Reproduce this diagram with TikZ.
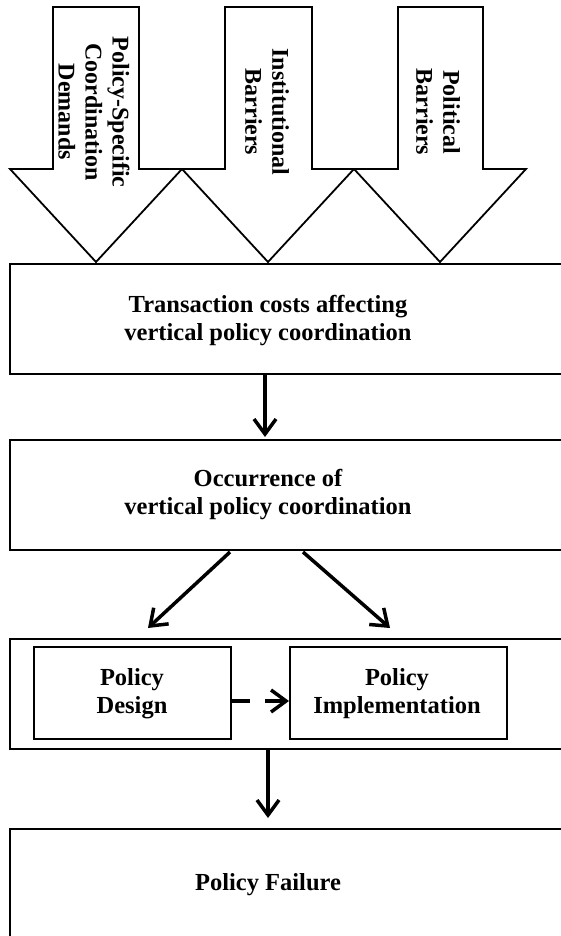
\documentclass[tikz,border=0pt]{standalone}
\usepackage{fontspec}
\setmainfont{Liberation Serif}
\usetikzlibrary{arrows.meta,calc}
\begin{document}
\begin{tikzpicture}[x=1pt,y=-1pt,
  bigarrow/.style={draw=black,line width=1.8pt,fill=white,line join=miter},
  boxshape/.style={draw=black,line width=2pt,fill=white,rectangle,inner sep=0pt},
  txt/.style={font=\bfseries\fontsize{24.5}{28}\selectfont,align=center,inner sep=0pt},
  vtxt/.style={font=\bfseries\fontsize{24}{27}\selectfont,align=center,inner sep=0pt,rotate=-90},
  conn/.style={line width=3.5pt,-{Straight Barb[length=15pt,width=22pt]}}
]
\useasboundingbox (0,0) rectangle (561,936);
\fill[white] (0,0) rectangle (561,936);
% big input arrows
\draw[bigarrow] (53,7) -- (139,7) -- (139,169) -- (182,169) -- (96,262) -- (10,169) -- (53,169) -- cycle;
\draw[bigarrow] (225,7) -- (312,7) -- (312,169) -- (354,169) -- (268,262) -- (182,169) -- (225,169) -- cycle;
\draw[bigarrow] (398,7) -- (483,7) -- (483,169) -- (526,169) -- (440,262) -- (354,169) -- (398,169) -- cycle;
\node[vtxt] (a1) at (94,112) {Policy-Specific\\Coordination\\Demands};
\node[vtxt] (a2) at (267,112) {Institutional\\Barriers};
\node[vtxt] (a3) at (438,112) {Political\\Barriers};
% boxes
\node[boxshape,anchor=north west,minimum width=580pt,minimum height=110pt] (b1) at (9,263) {};
\node[txt] (t1) at (268,321) {Transaction costs affecting\\vertical policy coordination};
\node[boxshape,anchor=north west,minimum width=580pt,minimum height=110pt] (b2) at (9,439) {};
\node[txt] (t2) at (268,495) {Occurrence of\\vertical policy coordination};
\node[boxshape,anchor=north west,minimum width=580pt,minimum height=110pt] (b3) at (9,638) {};
\node[boxshape,anchor=north west,minimum width=197pt,minimum height=92pt] (d) at (33,646) {};
\node[txt] (td) at (132,694) {Policy\\Design};
\node[boxshape,anchor=north west,minimum width=217pt,minimum height=92pt] (im) at (289,646) {};
\node[txt] (ti) at (397,694) {Policy\\Implementation};
\node[boxshape,anchor=north west,minimum width=580pt,minimum height=150pt] (b4) at (9,828) {};
\node[txt] (t4) at (268,885) {Policy Failure};
% connectors
\coordinate (e0) at (265,437);
\draw[conn] (b1.south -| e0) -- (e0);
\coordinate (s1) at (230,552);
\coordinate (e1) at (148,628);
\coordinate (s2) at (303,552);
\coordinate (e2) at (390,628);
\draw[conn] (s1) -- (e1);
\draw[conn] (s2) -- (e2);
\draw[conn,dash pattern=on 18pt off 15pt] (d.east |- 0,701) -- (im.west |- 0,701);
\coordinate (e3) at (268,818);
\draw[conn] (b3.south -| e3) -- (e3);
\end{tikzpicture}
\end{document}
